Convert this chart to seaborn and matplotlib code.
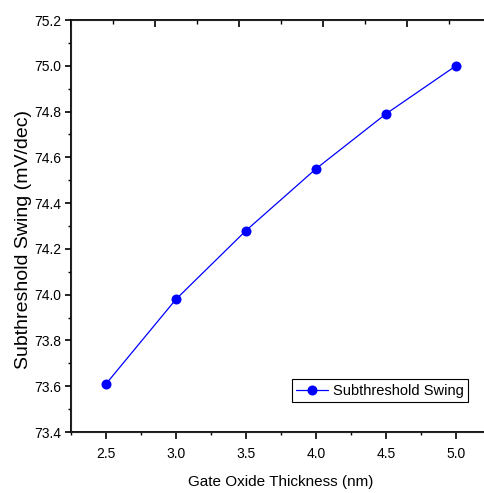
import matplotlib
matplotlib.use("Agg")
import matplotlib.pyplot as plt
import seaborn as sns
import pandas as pd
from matplotlib.ticker import MultipleLocator

# 数据
thickness = [2.5, 3.0, 3.5, 4.0, 4.5, 5.0]
swing = [73.61, 73.98, 74.28, 74.55, 74.79, 75.00]
series_name = "Subthreshold Swing"
x_label = "Gate Oxide Thickness (nm)"
y_label = "Subthreshold Swing (mV/dec)"

df = pd.DataFrame({"x": thickness, "y": swing})

sns.set_style("ticks")
plt.rcParams["font.family"] = ["Liberation Sans", "DejaVu Sans"]
plt.rcParams["text.color"] = "black"
plt.rcParams["axes.labelcolor"] = "black"

fig = plt.figure(figsize=(4.84, 4.93), dpi=100)
ax = fig.add_axes([71 / 484, 61 / 493, 420 / 484, 412 / 493])

sns.lineplot(data=df, x="x", y="y", ax=ax, color="#0000ff", lw=0.9,
             marker="o", markersize=7.2, markeredgewidth=0,
             label=series_name)

ax.set_xlim(2.25, 5.25)
ax.set_ylim(73.4, 75.2)
ax.xaxis.set_major_locator(MultipleLocator(0.5))
ax.xaxis.set_minor_locator(MultipleLocator(0.25))
ax.yaxis.set_major_locator(MultipleLocator(0.2))
ax.yaxis.set_minor_locator(MultipleLocator(0.1))
ax.xaxis.set_major_formatter(lambda v, p: f"{v:.1f}")
ax.yaxis.set_major_formatter(lambda v, p: f"{v:.1f}")

for s in ax.spines.values():
    s.set_linewidth(1.3)
    s.set_color("black")

ax.tick_params(axis="x", which="major", direction="out", length=5, width=1.2,
               labelsize=10, pad=6, colors="black")
ax.tick_params(axis="x", which="minor", direction="out", length=2.5, width=1.0,
               colors="black")
ax.tick_params(axis="y", which="major", direction="out", length=4, width=1.2,
               labelsize=10, pad=3, colors="black")
ax.tick_params(axis="y", which="minor", direction="out", length=2.2, width=1.0,
               colors="black")

# 顶部坐标轴（刻度间距不同）
ax2 = ax.twiny()
ax2.set_xlim(0, 5)
ax2.xaxis.set_major_locator(MultipleLocator(1))
ax2.xaxis.set_minor_locator(MultipleLocator(0.5))
ax2.tick_params(axis="x", which="major", direction="in", length=5, width=1.2,
                labeltop=False, colors="black")
ax2.tick_params(axis="x", which="minor", direction="in", length=3, width=1.0,
                colors="black")

ax.set_xlabel(x_label, fontsize=11, labelpad=10)
ax.set_ylabel(y_label, fontsize=14)
ax.yaxis.set_label_coords(-0.093, 0.468)

leg = ax.legend(loc="lower right", bbox_to_anchor=(397 / 420, 30 / 412),
                frameon=True, fancybox=False, framealpha=1, edgecolor="black",
                prop={"size": 10.5}, borderpad=0.3,
                handlelength=2.2, handletextpad=0.3, borderaxespad=0)
leg.get_frame().set_linewidth(0.8)

fig.savefig("out.png", dpi=100)
